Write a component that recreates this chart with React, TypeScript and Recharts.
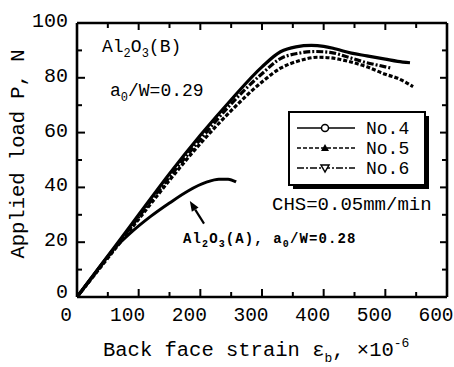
import { LineChart, Line, XAxis, YAxis, ReferenceLine } from 'recharts';

// Al2O3(B), a0/W=0.29 specimens
const no4Strain = [0, 25, 50, 100, 150, 200, 250, 300, 330, 355, 380, 400, 420, 445, 470, 500, 520, 540];
const no4Load = [0, 7.5, 15, 30, 45, 59, 72, 84, 89.5, 91.3, 91.8, 91.5, 90.5, 89, 88, 86.8, 86, 85.5];

const no5Strain = [0, 25, 50, 100, 150, 200, 250, 300, 330, 360, 390, 410, 440, 470, 500, 520, 545];
const no5Load = [0, 7.1, 14.2, 28.4, 42.6, 56, 68, 78.5, 83.5, 86.2, 87.5, 87.3, 86, 84, 81.3, 79.8, 76.8];

const no6Strain = [0, 25, 50, 100, 150, 200, 250, 300, 330, 360, 385, 410, 440, 470, 490, 510];
const no6Load = [0, 7.3, 14.6, 29.2, 43.8, 57.5, 70.5, 81.5, 87, 89, 89.6, 89.3, 87.5, 85.5, 84.5, 83.5];

// Al2O3(A), a0/W=0.28
const aStrain = [0, 30, 60, 90, 120, 150, 180, 210, 230, 245, 258];
const aLoad = [0, 9, 17.5, 24, 29.5, 34.3, 38.7, 41.9, 43, 43, 42];

const xTicks = [0, 50, 100, 150, 200, 250, 300, 350, 400, 450, 500, 550, 600];
const yTicks = [0, 10, 20, 30, 40, 50, 60, 70, 80, 90, 100];

// arrow pointing at the Al2O3(A) curve (tail -> head)
const arrowFrom = { x: 206, y: 26.8 };
const arrowTo = { x: 183, y: 35 };

const toPoints = (xs: number[], ys: number[]) => xs.map((x, i) => ({ x, y: ys[i] }));

const SERIES = [
  { name: 'No.4', data: toPoints(no4Strain, no4Load), dash: undefined as string | undefined, marker: 'circle' },
  { name: 'No.5', data: toPoints(no5Strain, no5Load), dash: '4 2', marker: 'up' },
  { name: 'No.6', data: toPoints(no6Strain, no6Load), dash: '7 2 2 2', marker: 'down' },
];

const FONT = '"Liberation Mono", "Courier New", monospace';

function LeftTick({ x, y, payload }: any) {
  const v = payload.value;
  const major = v % 20 === 0;
  return (
    <g>
      {v !== 0 && v !== 100 && (
        <line x1={x} y1={y} x2={x + (major ? 8 : 5)} y2={y} stroke="#000" strokeWidth={2} />
      )}
      {major && (
        <text x={x - 9} y={y + (v === 0 ? 1 : 4)} textAnchor="end" fontSize={20} fontFamily={FONT} fill="#000">
          {v}
        </text>
      )}
    </g>
  );
}

function BottomTick({ x, y, payload }: any) {
  const v = payload.value;
  const major = v % 100 === 0;
  return (
    <g>
      {v !== 0 && v !== 600 && (
        <line x1={x} y1={y} x2={x} y2={y - (major ? 8 : 5)} stroke="#000" strokeWidth={2} />
      )}
      {major && (
        <text x={x - 11} y={y + 24} textAnchor="middle" fontSize={19.5} fontFamily={FONT} fill="#000">
          {v}
        </text>
      )}
    </g>
  );
}

function RightTick({ x, y, payload }: any) {
  const v = payload.value;
  if (v === 0 || v === 100) return <g />;
  return <line x1={x} y1={y} x2={x - (v % 20 === 0 ? 7 : 5)} y2={y} stroke="#000" strokeWidth={2} />;
}

function TopTick({ x, y, payload }: any) {
  const v = payload.value;
  if (v === 0 || v === 600) return <g />;
  return <line x1={x} y1={y} x2={x} y2={y + (v % 100 === 0 ? 7 : 5)} stroke="#000" strokeWidth={2} />;
}

function ArrowShape(props: any) {
  const { x1, y1, x2, y2 } = props;
  const ang = Math.atan2(y2 - y1, x2 - x1);
  const len = 10;
  const w = 4;
  const bx = x2 - len * Math.cos(ang);
  const by = y2 - len * Math.sin(ang);
  const p1 = `${bx + w * Math.sin(ang)},${by - w * Math.cos(ang)}`;
  const p2 = `${bx - w * Math.sin(ang)},${by + w * Math.cos(ang)}`;
  return (
    <g>
      <line x1={x1} y1={y1} x2={bx} y2={by} stroke="#000" strokeWidth={2.2} />
      <polygon points={`${x2},${y2} ${p1} ${p2}`} fill="#000" />
    </g>
  );
}

function Marker({ kind, cx, cy }: { kind: string; cx: number; cy: number }) {
  if (kind === 'circle') return <circle cx={cx} cy={cy} r={3.5} fill="#fff" stroke="#000" strokeWidth={1.5} />;
  if (kind === 'up') return <polygon points={`${cx},${cy - 4} ${cx - 4},${cy + 3} ${cx + 4},${cy + 3}`} fill="#000" />;
  return <polygon points={`${cx},${cy + 4} ${cx - 4},${cy - 3} ${cx + 4},${cy - 3}`} fill="#fff" stroke="#000" strokeWidth={1.5} />;
}

export default function App() {
  return (
    <div style={{ position: 'absolute', left: 0, top: 0, width: 454, height: 367, background: '#fff' }}>
      <LineChart width={454} height={367} margin={{ top: 0, right: 0, bottom: 0, left: 0 }}>
        <XAxis
          xAxisId="bottom"
          type="number"
          dataKey="x"
          domain={[0, 600]}
          ticks={xTicks}
          interval={0}
          height={70}
          tickSize={0}
          tickMargin={0}
          tickLine={false}
          tick={<BottomTick />}
          axisLine={{ stroke: '#000', strokeWidth: 2.6 }}
          allowDataOverflow
        />
        <XAxis
          xAxisId="top"
          orientation="top"
          type="number"
          dataKey="x"
          domain={[0, 600]}
          ticks={xTicks}
          interval={0}
          height={23}
          tickSize={0}
          tickMargin={0}
          tickLine={false}
          tick={<TopTick />}
          axisLine={{ stroke: '#000', strokeWidth: 2.6 }}
          allowDataOverflow
        />
        <YAxis
          yAxisId="left"
          type="number"
          domain={[0, 100]}
          ticks={yTicks}
          interval={0}
          width={77}
          tickSize={0}
          tickMargin={0}
          tickLine={false}
          tick={<LeftTick />}
          axisLine={{ stroke: '#000', strokeWidth: 2.6 }}
          allowDataOverflow
        />
        <YAxis
          yAxisId="right"
          orientation="right"
          type="number"
          domain={[0, 100]}
          ticks={yTicks}
          interval={0}
          width={7}
          tickSize={0}
          tickMargin={0}
          tickLine={false}
          tick={<RightTick />}
          axisLine={{ stroke: '#000', strokeWidth: 2.6 }}
          allowDataOverflow
        />
        {SERIES.map((s) => (
          <Line
            key={s.name}
            xAxisId="bottom"
            yAxisId="left"
            data={s.data}
            dataKey="y"
            name={s.name}
            type="monotone"
            stroke="#000"
            strokeWidth={3.2}
            strokeDasharray={s.dash}
            dot={false}
            activeDot={false}
            isAnimationActive={false}
          />
        ))}
        <Line
          xAxisId="bottom"
          yAxisId="left"
          data={toPoints(aStrain, aLoad)}
          dataKey="y"
          name="Al2O3(A)"
          type="monotone"
          stroke="#000"
          strokeWidth={3}
          dot={false}
          activeDot={false}
          isAnimationActive={false}
        />
        <ReferenceLine
          xAxisId="bottom"
          yAxisId="left"
          segment={[arrowFrom, arrowTo]}
          shape={<ArrowShape />}
        />
      </LineChart>

      <svg
        width={454}
        height={367}
        style={{ position: 'absolute', left: 0, top: 0, pointerEvents: 'none' }}
        fontFamily={FONT}
        fill="#000"
      >
        {/* axis titles */}
        <text transform="translate(24,154) rotate(-90)" textAnchor="middle" fontSize={20.5}>
          Applied load P, N
        </text>
        <text x={103} y={356} fontSize={20.5}>
          Back face strain ε
          <tspan fontSize={13} dy={6}>b</tspan>
          <tspan dy={-6}>, ×10</tspan>
          <tspan fontSize={13} dy={-9}>-6</tspan>
        </text>

        {/* annotations */}
        <text x={102} y={52} fontSize={18}>
          Al<tspan fontSize={12} dy={5}>2</tspan>
          <tspan dy={-5}>O</tspan>
          <tspan fontSize={12} dy={5}>3</tspan>
          <tspan dy={-5}>(B)</tspan>
        </text>
        <text x={110} y={96} fontSize={18}>
          a<tspan fontSize={12} dy={5}>0</tspan>
          <tspan dy={-5}>/W=0.29</tspan>
        </text>
        <text x={272} y={210} fontSize={19}>
          CHS=0.05mm/min
        </text>
        <text x={183} y={243} fontSize={14} fontWeight="bold" letterSpacing={1.1}>
          Al<tspan fontSize={10} dy={4}>2</tspan>
          <tspan dy={-4}>O</tspan>
          <tspan fontSize={10} dy={4}>3</tspan>
          <tspan dy={-4}>(A), a</tspan>
          <tspan fontSize={10} dy={4}>0</tspan>
          <tspan dy={-4}>/W=0.28</tspan>
        </text>

        {/* legend */}
        <rect x={293} y={116} width={136} height={73} fill="#000" />
        <rect x={289} y={112} width={136} height={73} fill="#fff" stroke="#000" strokeWidth={2} />
        {SERIES.map((s, i) => {
          const cy = 128 + i * 20;
          return (
            <g key={s.name}>
              <line x1={297} y1={cy} x2={355} y2={cy} stroke="#000" strokeWidth={1.6} strokeDasharray={s.dash} />
              <Marker kind={s.marker} cx={325} cy={cy} />
              <text x={366} y={cy + 6} fontSize={18}>
                {s.name}
              </text>
            </g>
          );
        })}
      </svg>
    </div>
  );
}
